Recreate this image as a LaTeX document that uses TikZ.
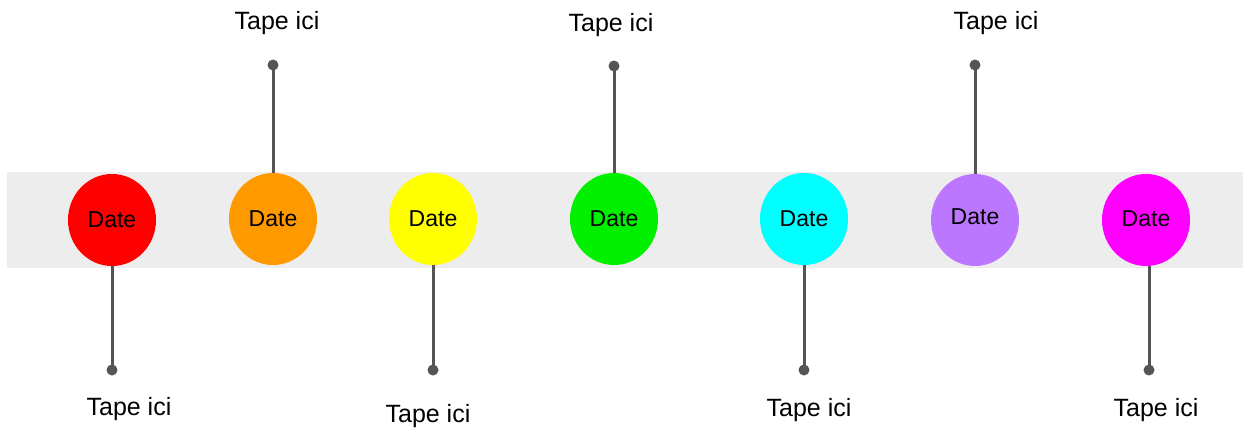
\documentclass[tikz,border=0pt]{standalone}
\usepackage{fontspec}
\setmainfont{Liberation Sans}
\usepackage{tikz}
\usetikzlibrary{shapes.geometric}
\definecolor{band}{HTML}{EDEDED}
\definecolor{stem}{HTML}{555555}
\definecolor{cRed}{HTML}{FF0000}
\definecolor{cOrange}{HTML}{FF9900}
\definecolor{cYellow}{HTML}{FFFF00}
\definecolor{cGreen}{HTML}{00F000}
\definecolor{cCyan}{HTML}{00FFFF}
\definecolor{cPurple}{HTML}{BB77FF}
\definecolor{cMagenta}{HTML}{FF00FF}
\tikzstyle{date} = [ellipse, minimum width=88pt, minimum height=92pt, inner sep=0pt, font=\fontsize{23}{27}\selectfont]
\tikzstyle{pin} = [circle, fill=stem, minimum size=11pt, inner sep=0pt]
\tikzstyle{tape} = [font=\fontsize{25}{29}\selectfont]
\tikzstyle{stick} = [stem, line width=3pt]

\begin{document}
\begin{tikzpicture}[x=1pt,y=-1pt]
				\useasboundingbox (0,0) rectangle (1250,431);
				% bande grise
				\fill[band] (7,172) rectangle (1243,268);
				% les dates
				\node[date,fill=cRed] (d1) at (112,220) {Date};
				\node[date,fill=cOrange] (d2) at (273,219) {Date};
				\node[date,fill=cYellow] (d3) at (433,219) {Date};
				\node[date,fill=cGreen] (d4) at (614,219) {Date};
				\node[date,fill=cCyan] (d5) at (804,219) {Date};
				\node[date,fill=cPurple] (d6) at (975,220) {\raisebox{7pt}{Date}};
				\node[date,fill=cMagenta] (d7) at (1146,220) {\raisebox{3pt}{Date}};
				% les tiges
				\node[pin] (p1) at (112,370) {};
				\node[pin] (p2) at (273,65) {};
				\node[pin] (p3) at (433,370) {};
				\node[pin] (p4) at (614,66) {};
				\node[pin] (p5) at (804,370) {};
				\node[pin] (p6) at (975,65) {};
				\node[pin] (p7) at (1149,370) {};
				\draw[stick] (d1) -- (p1.center);
				\draw[stick] (d2) -- (p2.center);
				\draw[stick] (d3) -- (p3.center);
				\draw[stick] (d4) -- (p4.center);
				\draw[stick] (d5) -- (p5.center);
				\draw[stick] (d6) -- (p6.center);
				\draw[stick] (d7.south -| p7) -- (p7.center);
				% les textes
				\node[tape] (t1) at (129,409) {Tape ici};
				\node[tape] (t2) at (277,23) {Tape ici};
				\node[tape] (t3) at (428,416) {Tape ici};
				\node[tape] (t4) at (611,25) {Tape ici};
				\node[tape] (t5) at (809,410) {Tape ici};
				\node[tape] (t6) at (996,23) {Tape ici};
				\node[tape] (t7) at (1156,410) {Tape ici};
			\end{tikzpicture}
\end{document}
